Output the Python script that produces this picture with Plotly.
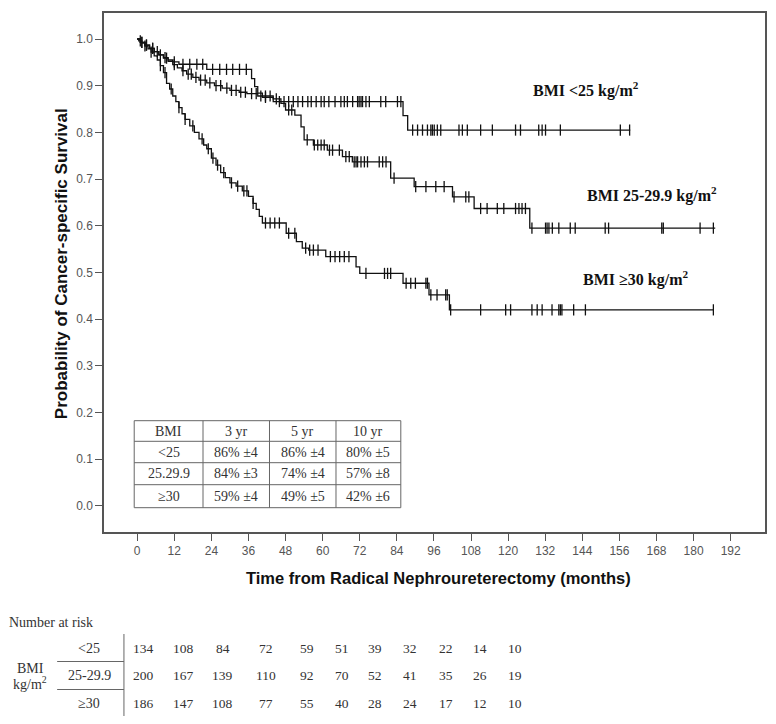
import plotly.graph_objects as go

# ---------------- data ----------------
# Kaplan-Meier steps: event times (months) and survival after each step
lt25_times = [1, 2.5, 4, 5.5, 7, 8.5, 10, 11.5, 13.5, 22.5, 37, 38, 39, 40.5, 44, 86, 87.5]
lt25_surv = [0.993, 0.987, 0.98, 0.973, 0.966, 0.96, 0.955, 0.951, 0.946, 0.935,
             0.915, 0.898, 0.884, 0.875, 0.866, 0.836, 0.805]
lt25_end = 159.5
lt25_censor = [1.5, 3, 5, 6.5, 9, 12, 14.8, 17, 19.3, 21.2, 24.4, 26.7, 28.9, 30.9, 33.1, 35.3,
               41.5, 46, 47.5, 49, 50.5, 52, 53.5, 55.2, 56.3, 57.9, 59.5, 60.5, 62, 64, 65.9,
               67.0, 68.0, 69.7, 71.3, 71.8, 72.4, 72.9, 74.0, 75.1, 78.8, 80.4, 84.2, 85.3,
               89.1, 90.7, 92.3, 93.9, 95.0, 95.5, 96.1, 97.1, 98.2, 104.1, 105.2, 106.8,
               111.1, 114.9, 122.4, 124.0, 129.9, 131.0, 132.1, 136.9, 156.3, 159.3]

mid_times = [1, 2.5, 4, 5.5, 7, 8.5, 10, 11.5, 13, 14.5, 16, 18, 20, 22.5, 25, 27.5, 30, 33,
             35.5, 39, 44, 46.5, 48, 51, 53, 54, 57, 61.5, 66.4, 69.6, 82, 89.6, 102, 109, 127]
mid_surv = [0.993, 0.987, 0.98, 0.973, 0.966, 0.959, 0.952, 0.945, 0.938, 0.932, 0.925,
            0.918, 0.912, 0.906, 0.9, 0.895, 0.89, 0.886, 0.883, 0.878, 0.872, 0.862, 0.848,
            0.837, 0.812, 0.784, 0.773, 0.762, 0.748, 0.737, 0.702, 0.684, 0.662, 0.637, 0.595]
mid_end = 187
mid_censor = [1.5, 3, 5, 7.5, 9.5, 12, 14.8, 16.5, 17.5, 19, 20.5, 22, 23.5, 25.5, 27, 29,
              30.5, 32, 33.5, 35, 37, 38.5, 40, 41.5, 43, 45, 49, 50, 55, 57.3, 58.4, 59.5,
              60.5, 62.2, 63.2, 65.4, 67.5, 68.6, 70.2, 70.8, 71.3, 72.4, 73.5, 74.5, 78.3,
              79.4, 80.5, 83.1, 90.1, 93.4, 96.6, 99.3, 102.5, 106.3, 107.3, 111.1, 113.2,
              116.5, 118.6, 122.4, 123.5, 124.5, 125.6, 127.7, 132.1, 132.6, 133.2, 134.3,
              136.4, 140.1, 141.7, 151.4, 152.5, 169.7, 170.2, 182.1, 186.4]

ge30_times = [0.5, 1.5, 2.5, 3.5, 4.5, 5.5, 6.5, 7.5, 8.5, 9.5, 10.5, 11.5, 12.5, 13.5, 14.5,
              15.5, 17, 18.5, 20, 21.5, 22.5, 24, 25.5, 27, 28.5, 30, 32, 34, 36, 37.5, 38.5,
              39.5, 40.5, 48.2, 51.5, 53.4, 55.5, 61, 70.8, 72, 86, 94.4, 101]
ge30_surv = [0.996, 0.991, 0.985, 0.979, 0.972, 0.964, 0.955, 0.943, 0.928, 0.905, 0.893,
             0.878, 0.866, 0.853, 0.84, 0.828, 0.814, 0.8, 0.786, 0.773, 0.765, 0.745, 0.73,
             0.714, 0.703, 0.692, 0.685, 0.675, 0.663, 0.648, 0.635, 0.62, 0.606, 0.584,
             0.566, 0.552, 0.548, 0.534, 0.512, 0.498, 0.477, 0.452, 0.42]
ge30_end = 186.5
ge30_censor = [1, 2.5, 4.5, 7.5, 9, 11, 13.5, 15.5, 18, 21, 23, 24.5, 26, 28, 30.5, 32.5, 34.5,
               35.5, 37.5, 41.5, 43, 44.5, 46, 49, 51, 54.5, 55.8, 57, 58.5, 62.5, 64, 65.5,
               67, 68.5, 74, 80, 81, 82, 87, 88.5, 90, 93.4, 93.9, 95, 97, 99.8, 100.3, 101.4,
               111.1, 119.2, 120.8, 127.7, 129.4, 131, 134.2, 136.4, 136.9, 137.4, 141.2, 145,
               186.4]

curve_labels = ["BMI <25 kg/m<sup>2</sup>", "BMI 25-29.9 kg/m<sup>2</sup>", "BMI \u226530 kg/m<sup>2</sup>"]
label_x = [127.3, 145.0, 143.5]
label_y = [0.891, 0.667, 0.487]

x_ticks = list(range(0, 193, 12))
y_ticks = [0.0, 0.1, 0.2, 0.3, 0.4, 0.5, 0.6, 0.7, 0.8, 0.9, 1.0]

# Inset survival table
tbl_header = ["BMI", "3 yr", "5 yr", "10 yr"]
tbl_groups = ["<25", "25.29.9", "\u226530"]
tbl_3yr = ["86% \u00b14", "84% \u00b13", "59% \u00b14"]
tbl_5yr = ["86% \u00b14", "74% \u00b14", "49% \u00b15"]
tbl_10yr = ["80% \u00b15", "57% \u00b18", "42% \u00b16"]

# Number at risk
risk_groups = ["<25", "25-29.9", "\u226530"]
risk_lt25 = [134, 108, 84, 72, 59, 51, 39, 32, 22, 14, 10]
risk_mid = [200, 167, 139, 110, 92, 70, 52, 41, 35, 26, 19]
risk_ge30 = [186, 147, 108, 77, 55, 40, 28, 24, 17, 12, 10]

# ---------------- layout geometry (pixels) ----------------
W, H = 776, 724
L, R, T, B = 104, 9, 13, 192
PW, PH = W - L - R, H - T - B


def pxx(x):
    return (x - L) / PW


def pxy(y):
    return (H - B - y) / PH


SANS = "Liberation Sans, Arial, sans-serif"
SERIF = "Liberation Serif, Times New Roman, serif"
INK = "#111"


def surv_at(t, times, surv):
    s = 1.0
    for ti, si in zip(times, surv):
        if ti <= t:
            s = si
    return s


fig = go.Figure()
for times, surv, end, cens in [(lt25_times, lt25_surv, lt25_end, lt25_censor),
                               (mid_times, mid_surv, mid_end, mid_censor),
                               (ge30_times, ge30_surv, ge30_end, ge30_censor)]:
    xs = [0] + times + [end]
    ys = [1.0] + surv + [surv[-1]]
    fig.add_trace(go.Scatter(x=xs, y=ys, mode="lines", line=dict(color=INK, width=1.3, shape="hv"),
                             showlegend=False, hoverinfo="skip"))
    fig.add_trace(go.Scatter(x=cens, y=[surv_at(c, times, surv) for c in cens], mode="markers",
                             marker=dict(symbol="line-ns-open", size=8, color=INK,
                                         line=dict(color=INK, width=1.3)),
                             showlegend=False, hoverinfo="skip"))

for txt, x, y in zip(curve_labels, label_x, label_y):
    fig.add_annotation(x=x, y=y, xref="x", yref="y", text="<b>" + txt + "</b>", showarrow=False,
                       xanchor="left", yanchor="middle", font=dict(family=SERIF, size=16, color=INK))

shapes = []


def text_at(x, y, txt, size, family=SERIF, color="#333", xanchor="center", angle=0):
    fig.add_annotation(x=pxx(x), y=pxy(y), xref="paper", yref="paper", text=txt, showarrow=False,
                       xanchor=xanchor, yanchor="middle", textangle=angle,
                       font=dict(family=family, size=size, color=color))


def hline(x0, x1, y):
    shapes.append(dict(type="line", xref="paper", yref="paper", x0=pxx(x0), x1=pxx(x1),
                       y0=pxy(y), y1=pxy(y), line=dict(color="#666", width=1)))


def vline(x, y0, y1):
    shapes.append(dict(type="line", xref="paper", yref="paper", x0=pxx(x), x1=pxx(x),
                       y0=pxy(y0), y1=pxy(y1), line=dict(color="#666", width=1)))


# inset table
col_edges = [134.3, 203.3, 270.0, 336.7, 401.7]
row_edges = [420.7, 441.3, 462.7, 484.7, 507.7]
for cx in col_edges:
    vline(cx, row_edges[0], row_edges[-1])
for ry in row_edges:
    hline(col_edges[0], col_edges[-1], ry)
rows = [tbl_header] + [[g, a, b, c] for g, a, b, c in zip(tbl_groups, tbl_3yr, tbl_5yr, tbl_10yr)]
for ri, row in enumerate(rows):
    cy = (row_edges[ri] + row_edges[ri + 1]) / 2
    for ci, txt in enumerate(row):
        cx = (col_edges[ci] + col_edges[ci + 1]) / 2
        text_at(cx, cy, txt, 14)

# axis titles
text_at(440, 578, "<b>Time from Radical Nephroureterectomy (months)</b>", 16.5, family=SANS, color=INK)
text_at(61, 264, "<b>Probability of Cancer-specific Survival</b>", 17, family=SANS, color=INK, angle=-90)

# number at risk block
text_at(7, 622, "Number at risk", 14, xanchor="left")
text_at(30, 668, "BMI", 14)
text_at(30, 683, "kg/m<sup>2</sup>", 14)
row_y = [648, 676, 703]
col_x = [143.3, 183.5, 223.0, 266.9, 308.0, 342.9, 375.9, 410.8, 446.6, 481.4, 515.9]
for gy, g, vals in zip(row_y, risk_groups, [risk_lt25, risk_mid, risk_ge30]):
    text_at(89, gy, g, 14)
    for cx, v in zip(col_x, vals):
        text_at(cx, gy, str(v), 13.5)
hline(57, 124, 661.5)
hline(57, 124, 689.5)
vline(124, 634, 716)

fig.update_layout(
    width=W, height=H, margin=dict(l=L, r=R, t=T, b=B),
    paper_bgcolor="white", plot_bgcolor="white", shapes=shapes, showlegend=False,
    xaxis=dict(range=[-10.74, 203.1], tickvals=x_ticks, ticks="outside", ticklen=7, tickwidth=1.2,
               tickcolor="#555", showline=True, linecolor="#555", linewidth=1.5, mirror=True,
               showgrid=False, zeroline=False, tickfont=dict(family=SANS, size=12, color="#555")),
    yaxis=dict(range=[-0.0557, 1.0557], tickvals=y_ticks, tickformat=".1f", ticks="outside", ticklen=7,
               tickwidth=1.2, tickcolor="#555", showline=True, linecolor="#555", linewidth=1.5, mirror=True,
               showgrid=False, zeroline=False, tickfont=dict(family=SANS, size=12, color="#555")),
)

fig.write_html("out.html", config={"displayModeBar": False},
               post_script="document.body.style.margin='0px';")
